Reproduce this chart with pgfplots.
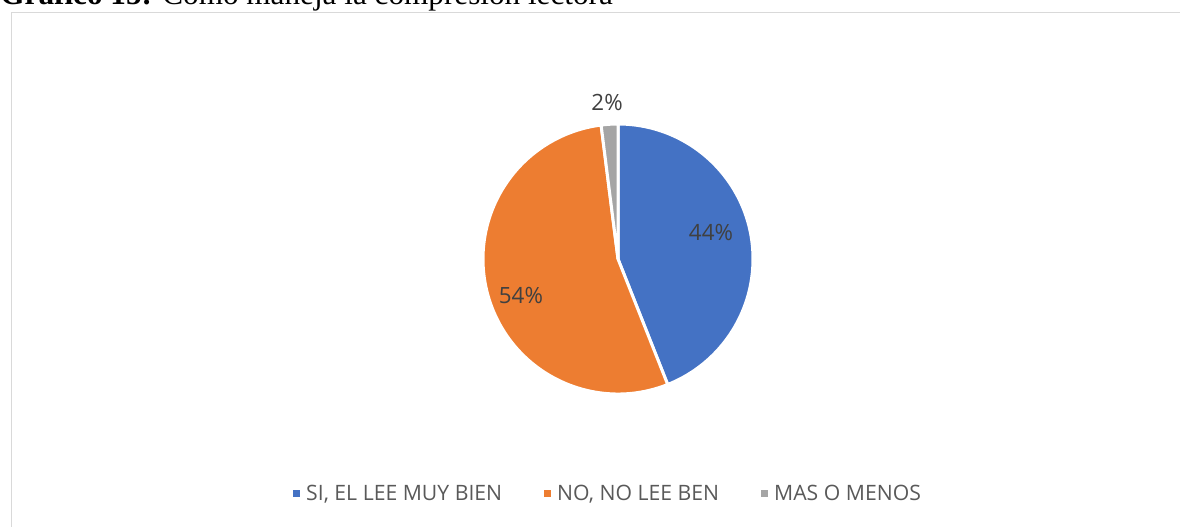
\documentclass[border=0pt]{standalone}
\usepackage{pgfplots}
\pgfplotsset{compat=1.18}
\usepackage{pgfplotstable}
\usepackage{fontspec}
\setmainfont{Open Sans}
\newfontfamily\titlefont{Liberation Serif}

\definecolor{pieblue}{HTML}{4472C4}
\definecolor{pieorange}{HTML}{ED7D31}
\definecolor{piegray}{HTML}{A5A5A5}
\definecolor{framegray}{HTML}{D9D9D9}
\definecolor{labeltext}{HTML}{404040}
\definecolor{legtext}{HTML}{595959}

% shares in percent, clockwise from 12 o'clock
\pgfplotstableread{
value
44
54
2
}\piedata

\begin{document}
\begin{tikzpicture}
\useasboundingbox (0,0) rectangle (590pt,263pt);
\clip (0,0) rectangle (590pt,263pt);

% title, cut by the top edge as in the source
\node[anchor=base west, inner sep=0pt, font=\titlefont\fontsize{15.6}{18}\selectfont]
  at (0pt,260.5pt) {\textbf{Gráfico 15:} Cómo maneja la compresión lectora};
\draw[framegray, line width=0.75pt] (5.75pt,-10pt) rectangle (600pt,256.75pt);

\pgfplotstablegetelem{0}{value}\of\piedata \let\va\pgfplotsretval
\pgfplotstablegetelem{1}{value}\of\piedata \let\vb\pgfplotsretval
\pgfplotstablegetelem{2}{value}\of\piedata \let\vc\pgfplotsretval
\pgfmathsetmacro{\aA}{90}
\pgfmathsetmacro{\aB}{\aA-3.6*\va}
\pgfmathsetmacro{\aC}{\aB-3.6*\vb}
\pgfmathsetmacro{\aD}{\aC-3.6*\vc}
\def\R{67.5pt}

\begin{axis}[
  at={(309pt,133.5pt)}, anchor=center,
  width=135pt, height=135pt, scale only axis,
  xmin=-1, xmax=1, ymin=-1, ymax=1,
  hide axis, clip=false,
  legend columns=3,
  legend style={at={(axis description cs:0.467,-0.370)}, anchor=center,
    draw=none, fill=none, font=\fontsize{10.6}{12}\selectfont, text=legtext,
    /tikz/every even column/.append style={column sep=19pt}},
  legend image code/.code={%
    \path[draw=none, fill=none] (0pt,0pt) rectangle (4.5pt,0.1pt);
    \fill[#1, draw=none] (0pt,-1.75pt) rectangle (3.5pt,1.75pt);},
]
\fill[pieblue, draw=white, line width=1.5pt]
  (axis cs:0,0) -- ++(\aA:\R) arc[start angle=\aA, end angle=\aB, radius=\R] -- cycle;
\fill[pieorange, draw=white, line width=1.5pt]
  (axis cs:0,0) -- ++(\aB:\R) arc[start angle=\aB, end angle=\aC, radius=\R] -- cycle;
\fill[piegray, draw=white, line width=1.5pt]
  (axis cs:0,0) -- ++(\aC:\R) arc[start angle=\aC, end angle=\aD, radius=\R] -- cycle;

\node[text=labeltext, font=\fontsize{11.2}{13}\selectfont] at (axis cs:0.689,0.2) {\va\%};
\node[text=labeltext, font=\fontsize{11.2}{13}\selectfont] at (axis cs:-0.719,-0.267) {\vb\%};
\node[text=labeltext, font=\fontsize{11.2}{13}\selectfont] at (axis cs:-0.081,1.156) {\vc\%};

\addlegendimage{fill=pieblue}
\addlegendentry{SI, EL LEE MUY BIEN}
\addlegendimage{fill=pieorange}
\addlegendentry{NO, NO LEE BEN}
\addlegendimage{fill=piegray}
\addlegendentry{MAS O MENOS}
\end{axis}
\end{tikzpicture}
\end{document}
